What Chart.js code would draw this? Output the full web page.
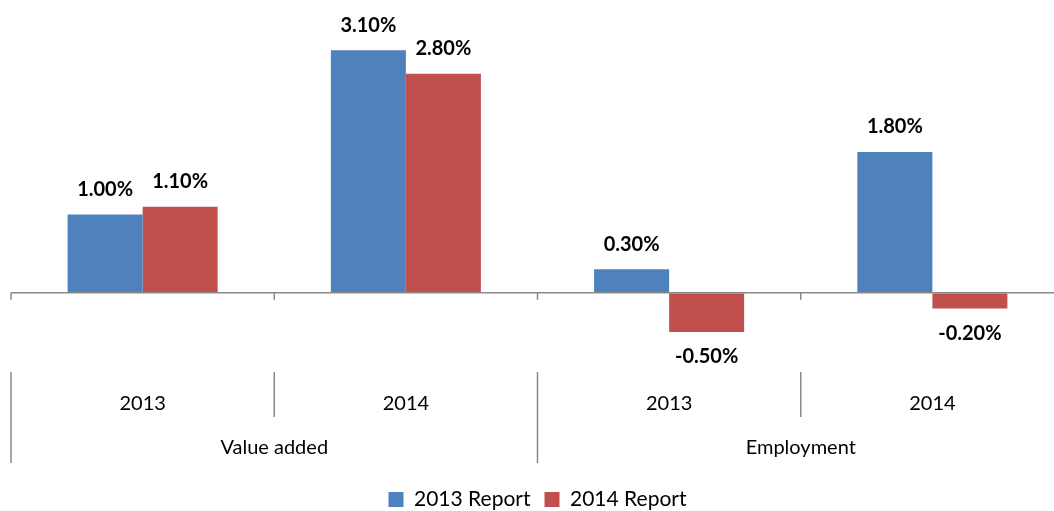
<!DOCTYPE html>
<html>
<head>
<meta charset="utf-8">
<script src="https://cdn.jsdelivr.net/npm/chart.js@4"></script>
<style>
  html, body { margin: 0; padding: 0; background: #fff; overflow: hidden; }
  #wrap { width: 1070px; height: 511px; }
</style>
</head>
<body>
<div id="wrap"><canvas id="growthChart"></canvas></div>
<script>
  const years = ["2013", "2014", "2013", "2014"];
  const groups = ["Value added", "Employment"];
  const report2013 = [1.0, 3.1, 0.3, 1.8];
  const report2014 = [1.1, 2.8, -0.5, -0.2];

  const FONT = "Lato, 'Liberation Sans', sans-serif";
  const AXIS_GREY = "#898989";

  // value labels above / below each bar
  const barLabels = {
    id: "barLabels",
    afterDatasetsDraw(chart) {
      const ctx = chart.ctx;
      ctx.save();
      ctx.font = "bold 20px " + FONT;
      ctx.fillStyle = "#000";
      ctx.textAlign = "center";
      ctx.textBaseline = "middle";
      chart.data.datasets.forEach(function(ds, di) {
        chart.getDatasetMeta(di).data.forEach(function(bar, i) {
          const v = ds.data[i];
          const y = v >= 0 ? bar.y - 25 : bar.y + 25;
          ctx.fillText(v.toFixed(2) + "%", bar.x, y);
        });
      });
      ctx.restore();
    }
  };

  // tick marks on the zero line, category separators and group labels
  const groupAxis = {
    id: "groupAxis",
    afterDraw(chart) {
      const ctx = chart.ctx;
      const x = chart.scales.x;
      const y0 = chart.scales.y.getPixelForValue(0);
      const bottom = chart.chartArea.bottom;
      const half = (x.getPixelForValue(1) - x.getPixelForValue(0)) / 2;
      const edges = [];
      for (let i = 0; i < years.length; i++) edges.push(x.getPixelForValue(i) - half);
      edges.push(x.getPixelForValue(years.length - 1) + half);

      ctx.save();
      ctx.strokeStyle = AXIS_GREY;
      ctx.lineWidth = 1.5;
      edges.forEach(function(px, i) {
        ctx.beginPath();
        ctx.moveTo(px, y0);
        ctx.lineTo(px, y0 + 7);
        ctx.stroke();
        const outer = i % 2 === 0;
        ctx.beginPath();
        ctx.moveTo(px, bottom + 1);
        ctx.lineTo(px, bottom + (outer ? 92 : 46));
        ctx.stroke();
      });

      ctx.font = "20px " + FONT;
      ctx.fillStyle = "#000";
      ctx.textAlign = "center";
      ctx.textBaseline = "middle";
      groups.forEach(function(g, gi) {
        const cx = (edges[gi * 2] + edges[gi * 2 + 2]) / 2;
        ctx.fillText(g, cx, bottom + 77);
      });
      ctx.restore();
    }
  };

  new Chart(document.getElementById("growthChart"), {
    type: "bar",
    data: {
      labels: years,
      datasets: [{
        label: "2013 Report",
        data: report2013,
        backgroundColor: "#4F81BD",
        borderWidth: 0
      }, {
        label: "2014 Report",
        data: report2014,
        backgroundColor: "#C0504D",
        borderWidth: 0
      }]
    },
    options: {
      responsive: true,
      maintainAspectRatio: false,
      animation: false,
      categoryPercentage: 0.57,
      barPercentage: 1,
      layout: { padding: { top: 19, left: 11, right: 6, bottom: -9 } },
      plugins: {
        legend: {
          position: "bottom",
          labels: {
            font: { family: FONT, size: 21 },
            color: "#000",
            boxWidth: 15,
            boxHeight: 15,
            padding: 14
          }
        },
        tooltip: { enabled: false }
      },
      scales: {
        x: {
          grid: { display: false },
          border: { display: false },
          ticks: {
            font: { family: FONT, size: 20 },
            color: "#000",
            padding: 13
          },
          afterFit(scale) { scale.height = 104; }
        },
        y: {
          min: -1,
          max: 3.5,
          ticks: { display: false, stepSize: 0.5 },
          border: { display: false },
          grid: {
            drawTicks: false,
            lineWidth: 1.5,
            color: function(c) {
              return c.tick && c.tick.value === 0 ? AXIS_GREY : "rgba(0,0,0,0)";
            }
          }
        }
      }
    },
    plugins: [barLabels, groupAxis]
  });
</script>
</body>
</html>
